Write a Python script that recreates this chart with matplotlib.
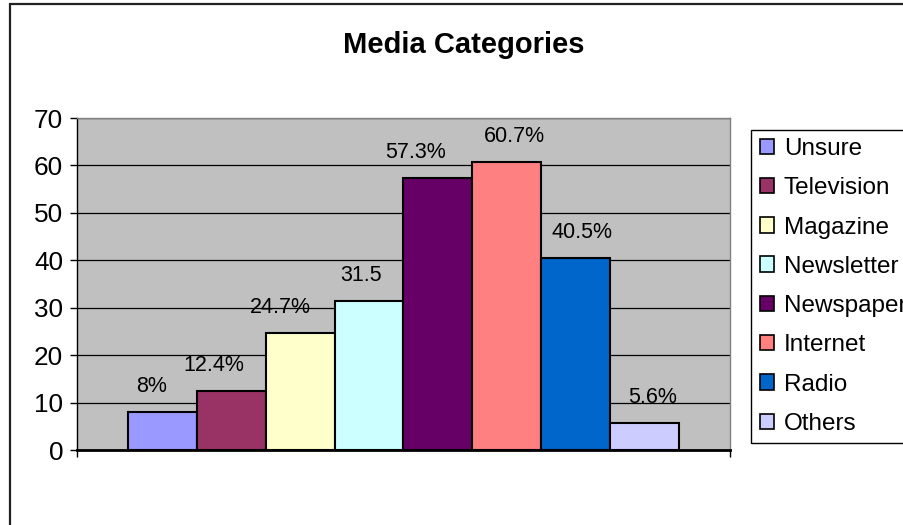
import matplotlib
matplotlib.use("Agg")
import matplotlib.pyplot as plt
from matplotlib.patches import Patch, Rectangle

plt.rcParams['font.family'] = ['Liberation Sans', 'DejaVu Sans']

# Survey data
categories = ["Unsure", "Television", "Magazine", "Newsletter",
              "Newspaper", "Internet", "Radio", "Others"]
values = [8, 12.4, 24.7, 31.5, 57.3, 60.7, 40.5, 5.6]
value_labels = ["8%", "12.4%", "24.7%", "31.5", "57.3%", "60.7%", "40.5%", "5.6%"]
colors = ["#9999FF", "#993366", "#FFFFCC", "#CCFFFF",
          "#660066", "#FF8080", "#0066CC", "#CCCCFF"]
y_ticks = [0, 10, 20, 30, 40, 50, 60, 70]

# horizontal nudges (pixels) for the value labels
label_nudge = [-11, -18, -20, -8, -22, 8, 7, 8]

W, H = 904, 525
fig = plt.figure(figsize=(W / 100, H / 100), dpi=100)
fig.patch.set_facecolor("white")

# chart area border
fig.patches.append(Rectangle((10 / W, -0.5), 1.2, 1.5 - 4 / H, transform=fig.transFigure,
                             fill=False, edgecolor="#222222", linewidth=1.6))

ax = fig.add_axes([77 / W, 1 - 450 / H, (730 - 77) / W, (450 - 118) / H])
ax.set_facecolor("#C0C0C0")

n = len(values)
bar_w = 0.8423 / n
handles = []
for i, (cat, v, c, lab, dx) in enumerate(zip(categories, values, colors,
                                               value_labels, label_nudge)):
    x = (i - (n - 1) / 2) * bar_w
    ax.bar(x, v, width=bar_w, color=c, edgecolor="black", linewidth=1.5, zorder=3)
    ax.annotate(lab, (x, v), xytext=(dx * 0.72, 14.4), textcoords="offset points",
                ha="center", va="baseline", fontsize=15.5, zorder=4)
    handles.append(Patch(facecolor=c, edgecolor="black", linewidth=1.2, label=cat))

ax.set_xlim(-0.5, 0.5)
ax.set_ylim(0, 70)
ax.set_yticks(y_ticks)
ax.set_xticks([-0.5, 0.5])
ax.set_xticklabels([])
ax.tick_params(axis="y", direction="out", length=5, width=1, pad=5, labelsize=18.8)
ax.tick_params(axis="x", direction="out", length=5, width=1)
ax.yaxis.grid(True, color="black", linewidth=0.9, zorder=1)
ax.set_axisbelow(True)

for s in ["top", "right"]:
    ax.spines[s].set_color("#808080")
    ax.spines[s].set_linewidth(1)
for s in ["left", "bottom"]:
    ax.spines[s].set_color("black")
    ax.spines[s].set_linewidth(1)
ax.spines["bottom"].set_linewidth(2)
ax.spines["bottom"].set_zorder(5)

fig.text(463.5 / W, 1 - 53 / H, "Media Categories", ha="center", va="baseline",
         fontsize=21, fontweight="bold")

leg = fig.legend(handles=handles, loc="upper left",
                 bbox_to_anchor=(751 / W, 1 - 129.5 / H), borderaxespad=0,
                 fontsize=17.5, frameon=True, fancybox=False, framealpha=1,
                 edgecolor="black", handlelength=0.6, handleheight=0.6,
                 handletextpad=0.4, labelspacing=0.71, borderpad=0.35)
leg.get_frame().set_linewidth(1)

fig.savefig("out.png", dpi=100)
